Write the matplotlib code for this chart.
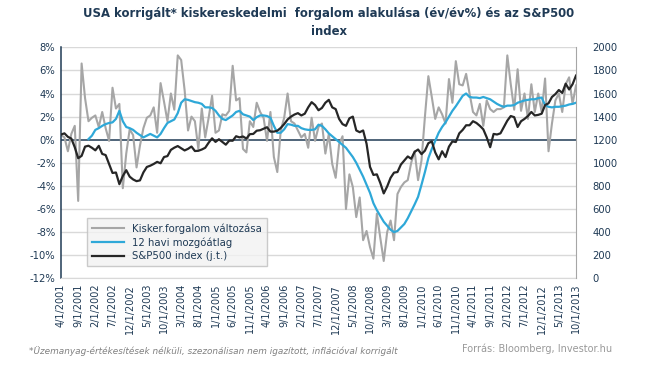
import matplotlib
matplotlib.use("Agg")
import matplotlib.pyplot as plt
import pandas as pd
import numpy as np

# Months 4/1/2001 .. 10/1/2013
months = [f"{d.month}/1/{d.year}" for d in pd.date_range("2001-04-01", "2013-10-01", freq="MS")]

retail = [0.4, 0.2, -1.0, 0.5, 1.2, -5.3, 6.6, 3.6, 1.6, 1.9,
          2.1, 1.1, 2.4, 1.0, -0.1, 4.5, 2.7, 3.1, -4.2, -1.2,
          0.9, 0.4, -2.4, -0.5, 1.0, 1.9, 2.1, 2.8, 0.6, 4.9,
          3.3, 1.6, 4.0, 2.6, 7.3, 6.9, 4.3, 0.8, 2.0, 1.6,
          -0.8, 2.7, 0.2, 1.9, 3.8, 0.6, 0.8, 2.2, 2.1, 2.5,
          6.4, 3.4, 3.6, -0.8, -1.1, 1.6, 1.1, 3.2, 2.4, 1.9,
          -0.1, 2.4, -1.5, -2.8, 0.8, 1.9, 4.0, 1.6, 1.4, 0.8,
          0.2, 0.5, -0.7, 1.9, -0.1, 1.1, 1.4, -1.2, 0.5, -2.1,
          -3.3, -0.4, 0.3, -6.0, -3.0, -4.1, -6.7, -5.0, -8.7, -7.9,
          -9.3, -10.3, -6.4, -8.5, -10.5, -8.0, -7.0, -8.7, -4.7, -4.1,
          -3.7, -3.5, -2.0, -1.0, -3.5, -1.8, 2.0, 5.5, 3.7, 1.8,
          2.8, 2.2, 1.4, 5.25, 3.2, 6.8, 4.8, 4.7, 5.7, 4.0,
          2.4, 2.1, 3.1, 1.2, 3.4, 2.65, 2.4, 2.65, 2.65, 2.8,
          7.3, 4.8, 2.6, 6.1, 2.5, 4.0, 1.8, 4.8, 2.4, 4.0,
          2.4, 5.3, -1.0, 1.4, 3.4, 4.0, 2.4, 4.8, 5.4, 3.1,
          4.7]

avg12 = [None] * 8 + [
          0.05, 0.35, 0.85, 1.0, 1.2, 1.35, 1.45, 1.5, 1.8, 2.5,
          1.6, 1.1, 1.0, 0.85, 0.6, 0.4, 0.2, 0.35, 0.5, 0.35,
          0.2, 0.5, 1.0, 1.45, 1.6, 1.75, 2.3, 3.2, 3.5, 3.45,
          3.35, 3.25, 3.2, 3.1, 2.8, 2.8, 2.75, 2.5, 2.1, 1.8,
          1.7, 1.9, 2.1, 2.4, 2.5, 2.2, 2.1, 2.0, 1.7, 1.95,
          2.1, 2.1, 2.05, 1.9, 1.2, 0.6, 0.6, 0.9, 1.35, 1.3,
          1.2, 1.2, 1.0, 0.9, 0.85, 0.85, 0.9, 1.3, 1.2, 0.9,
          0.55, 0.3, 0.05, -0.2, -0.45, -0.7, -1.1, -1.5, -2.0, -2.6,
          -3.2, -3.9, -4.6, -5.5, -6.1, -6.6, -7.1, -7.45, -7.8, -8.0,
          -7.9, -7.6, -7.3, -6.8, -6.2, -5.6, -4.95, -3.9, -2.8, -1.6,
          -0.8, -0.1, 0.6, 1.1, 1.5, 2.0, 2.5, 2.9, 3.35, 3.8,
          4.0, 3.7, 3.65, 3.65, 3.6, 3.7, 3.6, 3.5, 3.3, 3.1,
          2.95, 2.85, 2.95, 2.95, 3.0, 3.2, 3.3, 3.4, 3.45, 3.5,
          3.5, 3.6, 3.65, 3.0, 2.85, 2.8, 2.85, 2.85, 2.9, 2.95,
          3.05, 3.1, 3.2]

sp500 = [1245, 1255, 1225, 1210, 1135, 1040, 1060, 1140, 1148, 1130,
         1108, 1147, 1077, 1067, 990, 912, 916, 815, 886, 936,
         880, 856, 841, 848, 917, 964, 975, 990, 1008, 996,
         1050, 1058, 1112, 1131, 1145, 1126, 1107, 1121, 1141, 1102,
         1104, 1115, 1130, 1174, 1212, 1181, 1204, 1181, 1157, 1192,
         1191, 1230, 1220, 1228, 1210, 1248, 1250, 1278, 1282, 1295,
         1308, 1270, 1270, 1278, 1302, 1335, 1375, 1400, 1418, 1430,
         1410, 1425, 1480, 1525, 1500, 1455, 1475, 1520, 1545, 1480,
         1465, 1380, 1335, 1320, 1385, 1400, 1280, 1265, 1280, 1165,
         965, 895, 900, 825, 735, 795, 870, 915, 920, 985,
         1020, 1055, 1035, 1095, 1115, 1075, 1105, 1170, 1185, 1090,
         1030, 1100, 1050, 1140, 1185, 1180, 1255, 1285, 1325, 1325,
         1360, 1345, 1320, 1290, 1220, 1135, 1250, 1245, 1255, 1310,
         1365, 1405, 1395, 1310, 1360, 1380, 1405, 1440, 1410, 1415,
         1425, 1500, 1515, 1570, 1595, 1630, 1605, 1685, 1635, 1680,
         1755]

labels_series = ["Kisker.forgalom változása", "12 havi mozgóátlag", "S&P500 index (j.t.)"]
left_ticks = list(range(-12, 9, 2))
right_ticks = list(range(0, 2001, 200))

navy = "#1F3A55"
c_grey = "#A6A6A6"
c_blue = "#2EA8D8"
c_black = "#262626"

fig = plt.figure(figsize=(6.45, 3.69), dpi=100)
ax = fig.add_axes([0.0946, 0.2458, 0.7984, 0.626])
x = np.arange(len(months))

for t in left_ticks:
    if t == 0:
        continue
    ax.axhline(t, color="#D9D9D9", lw=1.0, zorder=0)
ax.axhline(0, color=navy, lw=1.1, zorder=1)

ax.plot(x, retail, color=c_grey, lw=1.5, zorder=2, label=labels_series[0])
avg_arr = np.array([np.nan if v is None else v for v in avg12], dtype=float)
ax.plot(x, avg_arr, color=c_blue, lw=1.6, zorder=3, label=labels_series[1])

ax.set_xlim(0, len(months) - 1)
ax.set_ylim(-12, 8)
ax.set_yticks(left_ticks)
ax.set_yticklabels([f"{t}%" for t in left_ticks], color=navy, fontsize=7.2)
ax.set_xticks(x[::5])
ax.set_xticklabels(months[::5], rotation=90, fontsize=7.0, color=navy)
ax.tick_params(axis="both", length=0, pad=4)
for s in ["top", "right"]:
    ax.spines[s].set_visible(False)
ax.spines["left"].set_color(navy)
ax.spines["left"].set_linewidth(1.1)
ax.spines["bottom"].set_color("#D9D9D9")

ax2 = ax.twinx()
ax2.plot(x, sp500, color=c_black, lw=1.6, zorder=4, label=labels_series[2])
ax2.set_ylim(0, 2000)
ax2.set_yticks(right_ticks)
ax2.set_yticklabels([str(t) for t in right_ticks], color=navy, fontsize=7.2)
ax2.tick_params(axis="y", length=0, pad=12)
for s in ["top", "left", "bottom"]:
    ax2.spines[s].set_visible(False)
ax2.spines["right"].set_color("#A6A6A6")

h1, l1 = ax.get_legend_handles_labels()
h2, l2 = ax2.get_legend_handles_labels()
leg = ax2.legend(h1 + h2, l1 + l2, loc="lower left", bbox_to_anchor=(0.04, 0.03),
                 fontsize=7.3, frameon=True, fancybox=False, handlelength=3.2,
                 borderpad=0.5, labelspacing=0.35)
leg.get_frame().set_facecolor("#F2F2F2")
leg.get_frame().set_edgecolor("#BFBFBF")
for t in leg.get_texts():
    t.set_color(navy)

fig.text(0.51, 0.98, "USA korrigált* kiskereskedelmi  forgalom alakulása (év/év%) és az S&P500\nindex",
         ha="center", va="top", fontsize=8.4, fontweight="bold", color=navy, linespacing=1.45)
fig.text(0.045, 0.035, "*Üzemanyag-értékesítések nélküli, szezonálisan nem igazított, inflációval korrigált",
         fontsize=6.4, style="italic", color="#808080", ha="left", va="bottom")
fig.text(0.717, 0.04, "Forrás: Bloomberg, Investor.hu", fontsize=7, color="#999999",
         ha="left", va="bottom")

fig.savefig("out.png", dpi=100)
